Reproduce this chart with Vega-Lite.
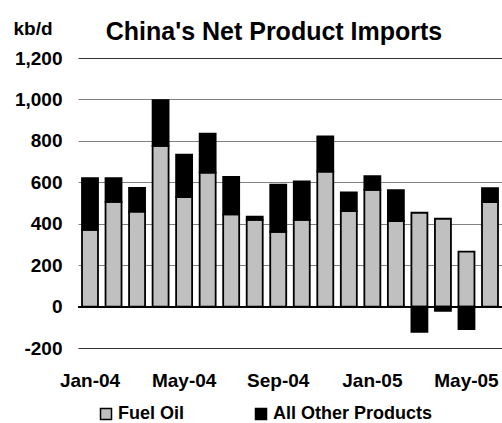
{
  "$schema": "https://vega.github.io/schema/vega-lite/v6.json",
  "autosize": "none",
  "width": 424,
  "height": 290,
  "padding": {"left": 78, "top": 58, "right": 0, "bottom": 75},
  "background": "white",
  "title": {
    "text": "China's Net Product Imports",
    "font": "Liberation Sans",
    "fontSize": 25,
    "fontWeight": "bold",
    "color": "black",
    "anchor": "middle",
    "frame": "group",
    "dx": -16,
    "baseline": "alphabetic",
    "offset": -46
  },
  "config": {
    "view": {"stroke": null},
    "font": "Liberation Sans"
  },
  "data": {
    "values": [
      {"month": "Jan-04", "product": "Fuel Oil", "value": 370},
      {"month": "Feb-04", "product": "Fuel Oil", "value": 505},
      {"month": "Mar-04", "product": "Fuel Oil", "value": 458},
      {"month": "Apr-04", "product": "Fuel Oil", "value": 776},
      {"month": "May-04", "product": "Fuel Oil", "value": 528},
      {"month": "Jun-04", "product": "Fuel Oil", "value": 647},
      {"month": "Jul-04", "product": "Fuel Oil", "value": 445},
      {"month": "Aug-04", "product": "Fuel Oil", "value": 419},
      {"month": "Sep-04", "product": "Fuel Oil", "value": 361},
      {"month": "Oct-04", "product": "Fuel Oil", "value": 419},
      {"month": "Nov-04", "product": "Fuel Oil", "value": 652},
      {"month": "Dec-04", "product": "Fuel Oil", "value": 461},
      {"month": "Jan-05", "product": "Fuel Oil", "value": 564},
      {"month": "Feb-05", "product": "Fuel Oil", "value": 413},
      {"month": "Mar-05", "product": "Fuel Oil", "value": 453},
      {"month": "Apr-05", "product": "Fuel Oil", "value": 424},
      {"month": "May-05", "product": "Fuel Oil", "value": 265},
      {"month": "Jun-05", "product": "Fuel Oil", "value": 504},
      {"month": "Jan-04", "product": "All Other Products", "value": 250},
      {"month": "Feb-04", "product": "All Other Products", "value": 115},
      {"month": "Mar-04", "product": "All Other Products", "value": 115},
      {"month": "Apr-04", "product": "All Other Products", "value": 221},
      {"month": "May-04", "product": "All Other Products", "value": 206},
      {"month": "Jun-04", "product": "All Other Products", "value": 188},
      {"month": "Jul-04", "product": "All Other Products", "value": 181},
      {"month": "Aug-04", "product": "All Other Products", "value": 15},
      {"month": "Sep-04", "product": "All Other Products", "value": 228},
      {"month": "Oct-04", "product": "All Other Products", "value": 185},
      {"month": "Nov-04", "product": "All Other Products", "value": 170},
      {"month": "Dec-04", "product": "All Other Products", "value": 90},
      {"month": "Jan-05", "product": "All Other Products", "value": 66},
      {"month": "Feb-05", "product": "All Other Products", "value": 149},
      {"month": "Mar-05", "product": "All Other Products", "value": -122},
      {"month": "Apr-05", "product": "All Other Products", "value": -21},
      {"month": "May-05", "product": "All Other Products", "value": -109},
      {"month": "Jun-05", "product": "All Other Products", "value": 68}
    ]
  },
  "layer": [
    {
      "mark": {"type": "rule", "color": "black", "strokeWidth": 1},
      "encoding": {"y": {"datum": 0, "type": "quantitative"}}
    },
    {
      "mark": {"type": "bar", "stroke": "black", "strokeWidth": 1.8},
      "encoding": {
        "x": {
          "field": "month",
          "type": "ordinal",
          "sort": null,
          "scale": {"paddingInner": 0.32, "paddingOuter": 0.17},
          "axis": {
            "title": null,
            "values": ["Jan-04", "May-04", "Sep-04", "Jan-05", "May-05"],
            "labelAngle": 0,
            "labelFont": "Liberation Sans",
            "labelFontSize": 19,
            "labelFontWeight": "bold",
            "labelColor": "black",
            "labelPadding": 23,
            "domain": false,
            "ticks": false,
            "grid": false
          }
        },
        "y": {
          "field": "value",
          "type": "quantitative",
          "stack": "zero",
          "scale": {"domain": [-200, 1200], "nice": false, "zero": false},
          "axis": {
            "values": [-200, 0, 200, 400, 600, 800, 1000, 1200],
            "format": ",.0f",
            "labelExpr": "replace(datum.label, '\u2212', '-')",
            "title": "kb/d",
            "titleAngle": 0,
            "titleAlign": "left",
            "titleBaseline": "alphabetic",
            "titleX": -65,
            "titleY": -24,
            "titleFont": "Liberation Sans",
            "titleFontSize": 19,
            "titleFontWeight": "bold",
            "titleColor": "black",
            "labelFont": "Liberation Sans",
            "labelFontSize": 19,
            "labelFontWeight": "bold",
            "labelColor": "black",
            "labelPadding": 16,
            "domain": false,
            "ticks": false,
            "grid": true,
            "gridColor": {"condition": {"test": "datum.value === 1200 || datum.value === -200", "value": "#333333"}, "value": "#808080"},
            "gridWidth": 1,
            "gridOpacity": 1
          }
        },
        "color": {
          "field": "product",
          "type": "nominal",
          "scale": {"domain": ["Fuel Oil", "All Other Products"], "range": ["#C0C0C0", "#000000"]},
          "legend": {
            "title": null,
            "orient": "none",
            "direction": "horizontal",
            "legendX": 19,
            "legendY": 347,
            "symbolType": "square",
            "symbolSize": 121,
            "symbolStrokeColor": "black",
            "symbolStrokeWidth": 1.5,
            "symbolOpacity": 1,
            "labelFont": "Liberation Sans",
            "labelFontSize": 18,
            "labelFontWeight": "bold",
            "labelColor": "black",
            "labelOffset": 3,
            "columnPadding": 67
          }
        },
        "order": {"field": "product", "sort": "descending"}
      }
    }
  ]
}
